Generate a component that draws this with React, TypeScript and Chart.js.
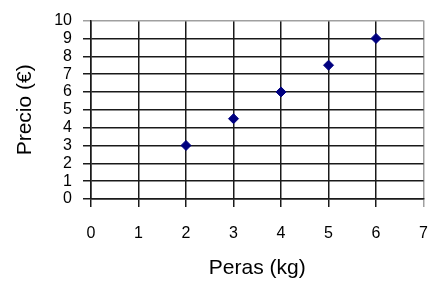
import React, { useEffect, useRef } from "react";
import { Chart, registerables } from "chart.js";

Chart.register(...registerables);

const pesoKg: number[] = [2, 3, 4, 5, 6];
const precioEur: number[] = [3, 4.5, 6, 7.5, 9];
const xTitle = "Peras (kg)";
const yTitle = "Precio (€)";
const xMin = 0;
const xMax = 7;
const yMin = 0;
const yMax = 10;

const FONT = "'Liberation Sans', Arial, sans-serif";

export default function App() {
  const ref = useRef<HTMLCanvasElement | null>(null);

  useEffect(() => {
    if (!ref.current) return;
    const chart = new Chart(ref.current, {
      type: "scatter",
      data: {
        datasets: [
          {
            label: "Precio",
            data: pesoKg.map((x, i) => ({ x, y: precioEur[i] })),
            pointStyle: "rectRot",
            pointRadius: 5,
            pointBackgroundColor: "#000080",
            pointBorderColor: "#000080",
            pointBorderWidth: 1,
            showLine: false,
          },
        ],
      },
      options: {
        animation: false,
        responsive: true,
        maintainAspectRatio: false,
        layout: { padding: { top: 20, right: 7, bottom: 0, left: 0 } },
        plugins: {
          legend: { display: false },
          tooltip: { enabled: false },
        },
        scales: {
          x: {
            type: "linear",
            min: xMin,
            max: xMax,
            afterFit: (s: any) => {
              s.height = 83;
            },
            ticks: {
              stepSize: 1,
              color: "#000",
              padding: 17,
              font: { family: FONT, size: 16 },
            },
            grid: {
              color: (c: any) => (c.tick && c.tick.value === xMax ? "#a0a0a0" : "#1a1a1a"),
              lineWidth: 1.5,
              tickLength: 8,
              drawTicks: true,
            },
            border: { display: true, color: "#1a1a1a", width: 1.5 },
            title: {
              display: true,
              text: xTitle,
              color: "#000",
              font: { family: FONT, size: 21 },
              padding: { top: 0, bottom: 1 },
            },
          },
          y: {
            type: "linear",
            min: yMin,
            max: yMax,
            afterFit: (s: any) => {
              s.width = 91;
            },
            ticks: {
              stepSize: 1,
              autoSkip: false,
              color: "#000",
              padding: 11,
              font: { family: FONT, size: 16 },
            },
            grid: {
              color: (c: any) => (c.tick && c.tick.value === yMax ? "#a0a0a0" : "#1a1a1a"),
              lineWidth: 1.5,
              tickLength: 8,
              drawTicks: true,
            },
            border: { display: true, color: "#1a1a1a", width: 1.5 },
            title: {
              display: true,
              text: yTitle,
              color: "#000",
              font: { family: FONT, size: 21 },
              padding: { top: 13, bottom: 0 },
            },
          },
        },
      },
    });
    return () => chart.destroy();
  }, []);

  return (
    <div style={{ position: "fixed", left: 0, top: 0, width: 445, height: 282, background: "#fff" }}>
      <canvas ref={ref} />
    </div>
  );
}
